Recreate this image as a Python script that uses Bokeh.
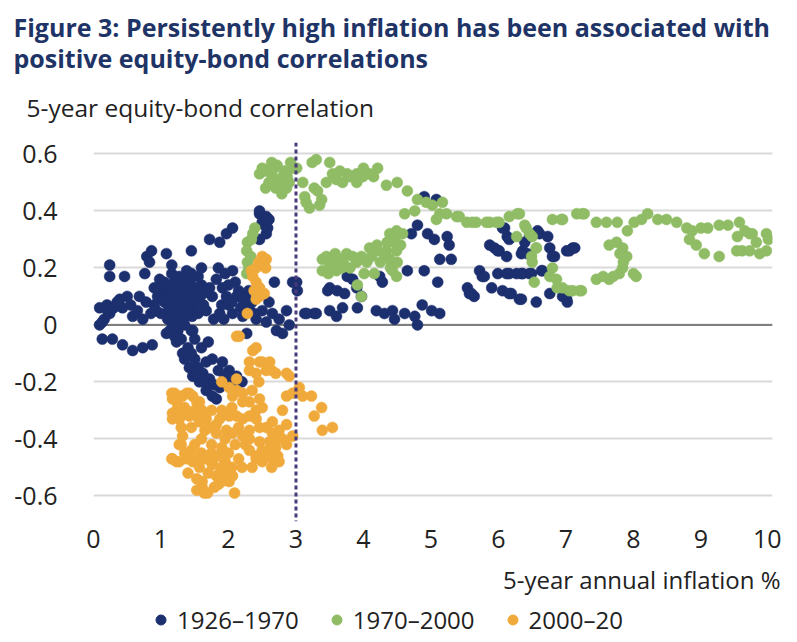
from bokeh.plotting import figure
from bokeh.layouts import column
from bokeh.models import Range1d, FixedTicker, Span, Label, Legend, LegendItem, ColumnDataSource
from bokeh.embed import file_html
from bokeh.resources import INLINE

# ---------------- data ----------------
blue_x = [0.09, 0.13, 0.16, 0.21, 0.24, 0.24, 0.46, 0.39, 0.28, 0.43, 0.58, 0.73, 0.87,
          0.09, 0.13, 0.24, 0.43, 0.58, 0.73, 0.20, 0.30, 0.35, 0.50, 0.55, 0.65, 0.68, 0.78, 0.85, 0.90, 0.95,
          1.00, 1.05, 1.10, 1.12, 1.15, 1.20, 1.22, 1.25, 1.28, 1.30, 1.33, 1.35, 1.38, 1.40, 1.42, 1.45, 1.48,
          1.50, 1.52, 1.55, 1.58, 1.60, 1.63, 1.05, 1.00, 1.10, 1.18, 1.25,
          0.79, 0.86, 0.83, 0.76, 1.08, 1.16, 1.16, 1.45, 1.45, 1.72, 1.87, 1.97, 2.06, 1.27, 1.32, 0.98, 0.90,
          1.38, 1.55, 1.60,
          1.08, 1.23, 1.32, 1.42, 1.47, 1.57, 1.67, 1.76, 1.82, 1.67, 1.76, 1.91, 2.01, 2.12, 1.87, 1.30, 1.40,
          1.50, 1.55, 1.62, 1.72, 1.60, 1.70, 1.45, 1.50, 1.35, 1.20, 2.06, 1.95, 2.20, 2.27, 1.13, 1.47,
          2.46, 2.56, 2.50, 2.56, 2.46, 2.53, 2.60, 2.46, 2.58,
          2.06, 1.82, 1.91, 1.76, 1.97, 2.12, 2.21, 1.67, 1.87, 2.06, 2.21, 2.41, 2.56, 2.71, 2.80, 2.86, 2.95,
          2.68, 1.85, 1.95, 2.00, 2.10, 2.15, 2.30, 2.30, 2.35, 1.90, 2.00, 1.72, 1.78, 2.60, 2.65, 2.50,
          2.45, 2.75, 2.90,
          3.01, 3.02, 3.13, 3.27, 3.50, 3.60, 3.69, 3.91, 4.19, 4.31, 4.43, 4.46, 4.61, 4.76, 4.80, 4.87, 5.01,
          5.13, 3.16, 3.30, 3.47,
          3.50, 3.61, 3.72, 3.76, 3.84, 3.90, 3.97, 4.24, 4.28, 4.65, 4.90, 5.10, 4.80, 4.90, 5.08, 4.71, 4.95,
          5.05, 5.24, 5.27, 5.13, 5.30,
          5.72, 5.76, 5.87, 5.94, 6.01, 6.12, 6.09, 6.13, 5.99, 6.12, 6.27, 6.36, 6.46, 5.54, 5.57, 5.64, 5.90,
          6.06, 6.19, 6.31, 6.36, 6.46, 6.43, 6.56, 6.58,
          6.06, 6.16, 5.99, 6.34, 6.39, 6.61, 6.73, 6.76, 6.83, 7.01, 7.10, 5.79, 6.16, 6.34, 6.49, 6.64, 5.60,
          6.16, 6.76, 7.01, 6.80, 7.05, 7.13, 6.65, 6.34, 6.95, 7.02,
          1.02, 1.07, 1.13, 1.18, 1.23, 1.27, 1.31, 1.36, 1.41, 1.46, 1.51, 1.56, 1.21, 1.34, 1.44, 1.26, 1.36,
          1.46, 1.15, 0.93, 0.96, 1.57, 1.62,
          2.18, 2.25, 2.38, 2.05, 1.93,
          1.35, 1.45, 1.52, 1.65, 1.78, 1.85, 2.00]
blue_y = [0.00, -0.05, 0.02, 0.05, 0.21, 0.17, 0.17, 0.09, -0.05, -0.07, -0.09, -0.08, -0.07,
          0.06, 0.01, 0.04, 0.06, 0.03, 0.02, 0.07, 0.06, 0.08, 0.10, 0.07, 0.05, 0.10, 0.08, 0.04, 0.07, 0.10,
          0.12, 0.08, 0.11, 0.06, 0.14, 0.09, 0.12, 0.05, 0.15, 0.10, 0.07, 0.12, 0.04, 0.09, 0.14, 0.11, 0.06,
          0.13, 0.08, 0.04, 0.10, 0.14, 0.07, 0.15, 0.04, 0.02, 0.00, -0.02,
          0.24, 0.26, 0.22, 0.18, 0.25, 0.21, 0.18, 0.26, 0.18, 0.30, 0.29, 0.32, 0.34, 0.17, 0.15, 0.16, 0.13,
          0.19, 0.17, 0.20,
          -0.03, -0.06, -0.10, -0.15, -0.18, -0.20, -0.23, -0.25, -0.26, -0.13, -0.12, -0.13, -0.16, -0.18,
          -0.22, -0.05, -0.08, -0.12, -0.15, -0.17, -0.19, -0.08, -0.06, -0.02, -0.05, 0.00, -0.04, -0.20,
          -0.18, -0.20, -0.03, -0.02, -0.02,
          0.39, 0.38, 0.36, 0.32, 0.30, 0.35, 0.37, 0.40, 0.34,
          0.19, 0.16, 0.13, 0.10, 0.10, 0.10, 0.09, 0.05, 0.04, 0.04, 0.03, 0.02, 0.01, -0.02, -0.03, 0.05, 0.15,
          0.15, 0.20, 0.18, 0.14, 0.15, 0.12, 0.12, 0.06, 0.08, 0.07, 0.07, 0.13, 0.02, 0.08, 0.04, 0.05,
          0.13, 0.02, 0.00,
          0.15, 0.12, 0.04, 0.04, 0.05, 0.03, 0.06, 0.06, 0.05, 0.04, 0.05, 0.02, 0.04, 0.03, 0.00, 0.07, 0.05,
          0.04, 0.04, 0.04, 0.12,
          0.13, 0.12, 0.11, 0.17, 0.16, 0.13, 0.10, 0.17, 0.15, 0.19, 0.19, 0.15, 0.35, 0.45, 0.44, 0.32, 0.32,
          0.30, 0.31, 0.28, 0.23, 0.23,
          0.19, 0.17, 0.28, 0.27, 0.26, 0.24, 0.34, 0.31, 0.18, 0.18, 0.18, 0.18, 0.18, 0.13, 0.11, 0.10, 0.13,
          0.12, 0.11, 0.09, 0.26, 0.31, 0.25, 0.08, 0.33,
          0.34, 0.30, 0.26, 0.25, 0.29, 0.32, 0.31, 0.27, 0.24, 0.26, 0.27, 0.17, 0.18, 0.18, 0.18, 0.19, 0.11,
          0.11, 0.11, 0.09, 0.24, 0.26, 0.27, 0.19, 0.09, 0.10, 0.08,
          0.09, 0.13, 0.10, 0.13, 0.08, 0.11, 0.14, 0.09, 0.12, 0.08, 0.11, 0.13, 0.16, 0.16, 0.16, 0.02, 0.03,
          0.03, 0.04, 0.05, 0.13, 0.06, 0.11,
          0.06, 0.10, 0.04, 0.08, 0.02,
          -0.12, -0.10, -0.18, -0.20, -0.21, -0.16, -0.21]

green_x = [2.46, 2.56, 2.64, 2.65, 2.76, 2.79, 2.86, 2.83, 2.95, 2.87, 2.50, 2.60, 2.70, 2.72, 2.90,
           2.39, 2.36, 2.28, 2.27, 2.28, 2.27, 2.34, 2.33, 2.30,
           3.01, 3.24, 3.30, 3.50, 3.54, 3.60, 3.69, 3.76, 3.90, 3.90, 3.99, 4.09, 4.21, 3.13, 3.20, 3.27, 3.38,
           3.32, 4.34, 4.50, 4.65, 4.80, 4.93, 5.02, 5.17, 4.61, 4.76, 5.08, 5.23, 5.38, 5.53, 5.67, 5.87, 6.01,
           6.16, 6.31, 3.80, 4.00, 4.15, 3.65, 3.45, 3.10, 3.15, 3.35,
           3.39, 3.39, 3.54, 3.64, 3.75, 3.84, 3.97, 4.09, 4.19, 4.34, 4.49, 4.39, 4.43, 4.49, 4.39, 4.49, 4.58,
           4.01, 4.16, 3.91, 3.97, 3.50, 3.45, 3.70, 3.90, 4.05, 4.25, 4.30, 4.20, 4.45, 4.55, 4.40, 4.50, 3.60,
           3.80,
           5.13, 5.42, 5.61, 5.82, 5.97, 6.28, 6.41, 6.46, 6.50, 6.56, 6.49, 6.50, 6.80, 6.95, 7.16, 7.27, 6.80,
           6.76, 6.86, 6.95, 7.10, 7.23, 6.53, 6.27,
           6.39, 6.56, 6.93, 7.24, 6.87, 7.05, 7.20,
           7.45, 7.60, 7.76, 7.91, 8.01, 8.12, 8.21, 8.36, 8.49, 8.64, 8.79, 8.87, 9.10, 9.27, 9.57, 9.97, 7.64,
           7.75, 7.84, 7.90, 7.84, 7.79, 7.64, 7.45, 8.04, 8.83, 8.93, 9.05, 9.27, 9.53, 9.61, 9.72, 9.76, 9.82,
           9.87, 9.97, 10.00, 9.54, 9.72, 7.85, 7.80, 7.70, 7.55, 8.00, 9.00, 9.40, 9.65,
           2.55, 2.68, 2.80, 2.92, 3.48, 3.58, 3.68, 4.12, 4.35, 4.47]
green_y = [0.53, 0.54, 0.57, 0.52, 0.50, 0.46, 0.48, 0.54, 0.55, 0.52, 0.55, 0.50, 0.48, 0.56, 0.50,
           0.34, 0.32, 0.29, 0.26, 0.22, 0.18, 0.30, 0.24, 0.20,
           0.55, 0.57, 0.58, 0.57, 0.53, 0.51, 0.50, 0.53, 0.53, 0.50, 0.52, 0.53, 0.55, 0.45, 0.41, 0.48, 0.44,
           0.47, 0.49, 0.50, 0.47, 0.44, 0.43, 0.42, 0.43, 0.39, 0.40, 0.37, 0.39, 0.38, 0.36, 0.36, 0.36, 0.36,
           0.38, 0.39, 0.52, 0.55, 0.52, 0.54, 0.50, 0.50, 0.43, 0.42,
           0.23, 0.19, 0.22, 0.23, 0.25, 0.24, 0.24, 0.27, 0.26, 0.26, 0.26, 0.23, 0.19, 0.17, 0.32, 0.33, 0.32,
           0.18, 0.18, 0.14, 0.10, 0.21, 0.24, 0.22, 0.22, 0.22, 0.22, 0.25, 0.28, 0.29, 0.28, 0.20, 0.22, 0.19,
           0.20,
           0.39, 0.38, 0.36, 0.36, 0.36, 0.39, 0.34, 0.32, 0.31, 0.27, 0.24, 0.22, 0.37, 0.37, 0.39, 0.39, 0.20,
           0.17, 0.16, 0.13, 0.12, 0.12, 0.15, 0.31,
           0.35, 0.27, 0.37, 0.39, 0.13, 0.12, 0.12,
           0.36, 0.36, 0.36, 0.33, 0.36, 0.37, 0.39, 0.37, 0.37, 0.36, 0.34, 0.33, 0.34, 0.35, 0.36, 0.32, 0.28,
           0.29, 0.27, 0.24, 0.20, 0.18, 0.16, 0.16, 0.17, 0.30, 0.28, 0.25, 0.24, 0.26, 0.26, 0.32, 0.32, 0.29,
           0.25, 0.26, 0.30, 0.31, 0.26, 0.22, 0.25, 0.17, 0.17, 0.18, 0.34, 0.35, 0.33,
           0.48, 0.55, 0.52, 0.57, 0.18, 0.25, 0.20, 0.24, 0.29, 0.31]

orange_x = [2.50, 2.56, 2.41, 2.34, 2.36, 2.41, 2.46, 2.46, 2.53, 2.41, 2.28, 2.16, 2.45, 2.55, 2.38,
            2.12, 2.36, 2.41, 2.31, 2.46, 2.56, 2.64, 2.61, 2.70,
            1.20, 1.32, 1.42, 1.53, 1.61, 1.17, 1.27, 1.42, 1.57, 1.72, 1.82, 1.87, 2.01, 2.12, 2.21, 2.31, 2.41,
            2.46, 2.31, 2.21, 2.06, 1.97, 1.82, 1.32, 1.30, 1.17, 1.27, 1.42, 1.54, 1.67, 1.76, 1.90, 1.82, 1.90,
            2.01, 2.06, 1.53, 1.61, 1.69, 1.53, 2.31, 2.41, 2.56, 2.65, 2.73, 2.41, 2.50, 2.64, 2.31, 2.46, 2.61,
            2.71, 2.80, 2.86, 2.56, 2.65, 2.41, 2.50, 2.46, 2.31, 2.21, 2.12, 2.01, 1.90, 2.06, 2.21, 2.12, 2.31,
            2.41, 2.50, 2.86, 2.90, 2.86, 2.95, 3.05, 3.10, 3.23, 3.38, 3.27, 3.39, 3.54, 2.95, 2.86,
            1.16, 1.17, 1.27, 1.38, 1.47, 1.57, 1.23, 1.17, 1.27, 1.38, 1.53, 1.67, 1.27, 1.16, 1.23, 1.38, 1.47,
            1.57, 1.69, 1.76, 1.87, 1.97, 1.61, 1.64, 2.09, 1.79,
            1.45, 1.60, 1.75, 1.90, 2.00, 2.10, 1.95, 1.65, 1.50, 1.85, 2.15, 2.20, 1.70, 1.40,
            1.25, 1.35, 1.50, 1.62, 1.75, 1.90, 2.05, 2.15, 2.25, 2.35, 2.50, 2.60, 2.70, 2.75, 1.35, 1.45,
            1.60, 1.75, 1.95, 2.05, 1.85, 1.95, 1.30, 2.35, 2.45, 2.65, 2.75, 2.80]
orange_y = [0.24, 0.23, 0.20, 0.19, 0.17, 0.15, 0.13, 0.10, 0.11, 0.09, 0.04, -0.04, 0.22, 0.20, 0.12,
            -0.04, -0.09, -0.08, -0.13, -0.13, -0.16, -0.16, -0.13, -0.17,
            -0.24, -0.25, -0.24, -0.27, -0.30, -0.31, -0.33, -0.32, -0.34, -0.36, -0.35, -0.33, -0.32, -0.32,
            -0.33, -0.32, -0.33, -0.36, -0.37, -0.39, -0.38, -0.37, -0.38, -0.39, -0.42, -0.47, -0.48, -0.46,
            -0.47, -0.47, -0.48, -0.50, -0.53, -0.55, -0.55, -0.53, -0.58, -0.57, -0.59, -0.54, -0.44, -0.46,
            -0.46, -0.47, -0.46, -0.47, -0.48, -0.50, -0.40, -0.41, -0.41, -0.40, -0.40, -0.35, -0.36, -0.38,
            -0.30, -0.29, -0.26, -0.27, -0.24, -0.23, -0.22, -0.20, -0.25, -0.27, -0.19, -0.16, -0.17, -0.13,
            -0.17, -0.18, -0.25, -0.24, -0.22, -0.25, -0.25, -0.29, -0.32, -0.37, -0.36, -0.39, -0.42,
            -0.24, -0.26, -0.25, -0.24, -0.25, -0.27, -0.30, -0.33, -0.33, -0.31, -0.32, -0.33, -0.42, -0.47,
            -0.48, -0.47, -0.48, -0.50, -0.47, -0.49, -0.52, -0.53, -0.55, -0.59, -0.59, -0.57,
            -0.36, -0.40, -0.42, -0.43, -0.45, -0.42, -0.40, -0.37, -0.42, -0.46, -0.47, -0.50, -0.52, -0.52,
            -0.28, -0.29, -0.30, -0.32, -0.30, -0.30, -0.29, -0.36, -0.42, -0.50, -0.44, -0.44, -0.43, -0.48,
            -0.45, -0.44, -0.45, -0.45, -0.48, -0.50, -0.56, -0.52, -0.36, -0.23, -0.20, -0.34, -0.37, -0.30]

series_names = ["1926\u20131970", "1970\u20132000", "2000\u201320"]
series_colors = ["#1c2f6e", "#8fbc65", "#f0aa3c"]

y_ticks = [-0.6, -0.4, -0.2, 0.0, 0.2, 0.4, 0.6]
y_tick_labels = ["-0.6", "-0.4", "-0.2", "0", "0.2", "0.4", "0.6"]
x_ticks = [0, 1, 2, 3, 4, 5, 6, 7, 8, 9, 10]
x_tick_labels = ["0", "1", "2", "3", "4", "5", "6", "7", "8", "9", "10"]
threshold_inflation = 3

title_lines = ["Figure 3: Persistently high inflation has been associated with",
               "positive equity-bond correlations"]
y_label_text = "5-year equity-bond correlation"
x_label_text = "5-year annual inflation %"

FONT = "Open Sans"
TEXT_COL = "#222222"
W = 781


def blank(h):
    f = figure(width=W, height=h, output_backend="svg", toolbar_location=None,
               x_range=Range1d(0, W), y_range=Range1d(h, 0),
               x_axis_type=None, y_axis_type=None,
               min_border_left=0, min_border_right=0, min_border_top=0, min_border_bottom=0)
    f.outline_line_color = None
    f.xgrid.visible = False
    f.ygrid.visible = False
    f.frame_align = False
    return f


# ---------- header: title + y-axis label ----------
header = blank(128)
for txt, yy in zip(title_lines, [26, 57]):
    header.add_layout(Label(x=13, y=yy, text=txt, text_font=FONT, text_font_style="bold",
                            text_font_size="25px", text_color="#1f3466", text_baseline="middle"))
header.add_layout(Label(x=26, y=107, text=y_label_text, text_font=FONT,
                        text_font_size="24.5px", text_color=TEXT_COL, text_baseline="middle"))

# ---------- main plot ----------
p = figure(width=W, height=433, output_backend="svg", toolbar_location=None,
           x_range=Range1d(0, 10.06), y_range=Range1d(-0.69, 0.64),
           min_border_left=93, min_border_right=9, min_border_top=14, min_border_bottom=40)
p.outline_line_color = None
p.frame_align = False

p.xaxis.ticker = FixedTicker(ticks=x_ticks)
p.xaxis.major_label_overrides = {t: l for t, l in zip(x_ticks, x_tick_labels)}
p.yaxis.ticker = FixedTicker(ticks=y_ticks)
p.yaxis.major_label_overrides = {t: l for t, l in zip(y_ticks, y_tick_labels)}
for ax in (p.xaxis, p.yaxis):
    ax.axis_line_color = None
    ax.major_tick_line_color = None
    ax.minor_tick_line_color = None
    ax.major_tick_out = 0
    ax.major_tick_in = 0
    ax.major_label_text_font = FONT
    ax.major_label_text_font_size = "25px"
    ax.major_label_text_color = TEXT_COL
p.yaxis.major_label_standoff = 36
p.xaxis.major_label_standoff = 8

p.xgrid.visible = False
p.ygrid.ticker = FixedTicker(ticks=y_ticks)
p.ygrid.grid_line_color = "#d9d9d9"
p.ygrid.grid_line_width = 2

p.add_layout(Span(location=0, dimension="width", line_color="#7f7f7f", line_width=2, level="underlay"))

for xs, ys, col in [(blue_x, blue_y, series_colors[0]),
                    (green_x, green_y, series_colors[1]),
                    (orange_x, orange_y, series_colors[2])]:
    src = ColumnDataSource(data=dict(x=xs, y=ys))
    p.scatter("x", "y", source=src, size=11, fill_color=col, line_color=col, line_width=0.5)

p.add_layout(Span(location=threshold_inflation, dimension="height", line_color="#4a3a7c",
                  line_width=3, line_dash="4 3"))

# ---------- footer: x-axis label + legend ----------
footer = blank(75)
footer.add_layout(Label(x=780, y=18, text=x_label_text, text_font=FONT, text_align="right",
                        text_font_size="24px", text_color=TEXT_COL, text_baseline="middle"))
items = []
for name, col in zip(series_names, series_colors):
    # legend-only renderer (no visible data point)
    r = footer.scatter(x=[float("nan")], y=[float("nan")], size=10, fill_color=col, line_color=col)
    items.append(LegendItem(label=name, renderers=[r]))
legend = Legend(items=items, location=(148, 0), orientation="horizontal",
                label_text_font=FONT, label_text_font_size="24px", label_text_color=TEXT_COL,
                glyph_width=25, glyph_height=25, label_standoff=4, spacing=25,
                padding=0, margin=0, border_line_color=None, background_fill_alpha=0)
footer.add_layout(legend, "center")

layout = column(header, p, footer, spacing=0)
open("out.html", "w").write(file_html(layout, INLINE))
